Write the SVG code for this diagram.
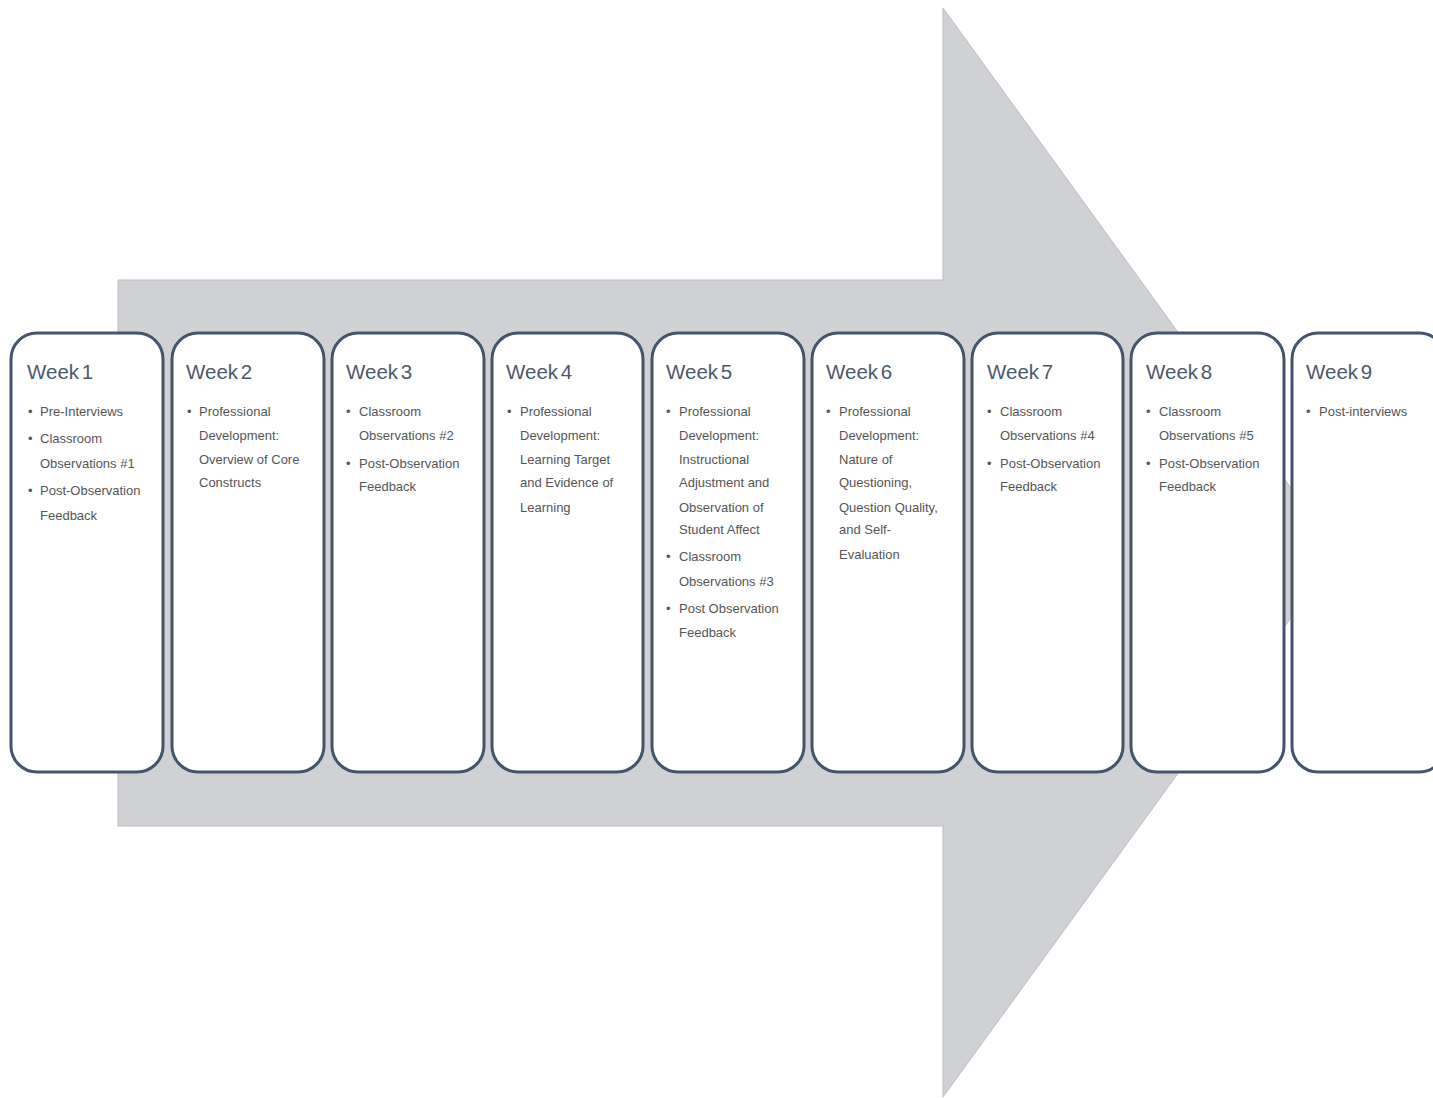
<svg xmlns="http://www.w3.org/2000/svg" width="1433" height="1098" viewBox="0 0 1433 1098">
<style>
.box{fill:#ffffff;stroke:#44546a;stroke-width:3}
.t{font-family:"Liberation Sans",Arial,sans-serif;font-size:20.5px;word-spacing:-3px;fill:#4b5a6e}
.b{font-family:"Liberation Sans",Arial,sans-serif;font-size:13px;fill:#555555}
</style>
<rect width="1433" height="1098" fill="#ffffff"/>
<g id="arrow">
<path d="M118 280 H943 V8 L1338 553 L943 1097 V826 H118 Z" fill="#d0d1d5" stroke="#bdbdbd" stroke-width="1"/>
</g>
<g id="connectors"></g>
<g id="week1" transform="translate(11,333)">
<rect class="box" x="0" y="0" width="152" height="439" rx="26"/>
<text class="t" x="16" y="46">Week 1</text>
<text class="b" x="17" y="83">•</text><text class="b" x="29" y="83">Pre-Interviews</text>
<text class="b" x="17" y="110">•</text><text class="b" x="29" y="110">Classroom</text>
<text class="b" x="29" y="135">Observations  #1</text>
<text class="b" x="17" y="162">•</text><text class="b" x="29" y="162">Post-Observation</text>
<text class="b" x="29" y="187">Feedback</text>
</g>
<g id="week2" transform="translate(172,333)">
<rect class="box" x="0" y="0" width="152" height="439" rx="26"/>
<text class="t" x="14" y="46">Week 2</text>
<text class="b" x="15" y="83">•</text><text class="b" x="27" y="83">Professional</text>
<text class="b" x="27" y="107">Development:</text>
<text class="b" x="27" y="131">Overview of Core</text>
<text class="b" x="27" y="154">Constructs</text>
</g>
<g id="week3" transform="translate(332,333)">
<rect class="box" x="0" y="0" width="152" height="439" rx="26"/>
<text class="t" x="14" y="46">Week 3</text>
<text class="b" x="14" y="83">•</text><text class="b" x="27" y="83">Classroom</text>
<text class="b" x="27" y="107">Observations  #2</text>
<text class="b" x="14" y="135">•</text><text class="b" x="27" y="135">Post-Observation</text>
<text class="b" x="27" y="158">Feedback</text>
</g>
<g id="week4" transform="translate(492,333)">
<rect class="box" x="0" y="0" width="151" height="439" rx="26"/>
<text class="t" x="14" y="46">Week 4</text>
<text class="b" x="15" y="83">•</text><text class="b" x="28" y="83">Professional</text>
<text class="b" x="28" y="107">Development:</text>
<text class="b" x="28" y="131">Learning  Target</text>
<text class="b" x="28" y="154">and Evidence  of</text>
<text class="b" x="28" y="179">Learning</text>
</g>
<g id="week5" transform="translate(652,333)">
<rect class="box" x="0" y="0" width="152" height="439" rx="26"/>
<text class="t" x="14" y="46">Week 5</text>
<text class="b" x="14" y="83">•</text><text class="b" x="27" y="83">Professional</text>
<text class="b" x="27" y="107">Development:</text>
<text class="b" x="27" y="131">Instructional</text>
<text class="b" x="27" y="154">Adjustment  and</text>
<text class="b" x="27" y="179">Observation  of</text>
<text class="b" x="27" y="201">Student  Affect</text>
<text class="b" x="14" y="228">•</text><text class="b" x="27" y="228">Classroom</text>
<text class="b" x="27" y="253">Observations  #3</text>
<text class="b" x="14" y="280">•</text><text class="b" x="27" y="280">Post Observation</text>
<text class="b" x="27" y="304">Feedback</text>
</g>
<g id="week6" transform="translate(812,333)">
<rect class="box" x="0" y="0" width="152" height="439" rx="26"/>
<text class="t" x="14" y="46">Week 6</text>
<text class="b" x="14" y="83">•</text><text class="b" x="27" y="83">Professional</text>
<text class="b" x="27" y="107">Development:</text>
<text class="b" x="27" y="131">Nature  of</text>
<text class="b" x="27" y="154">Questioning,</text>
<text class="b" x="27" y="179">Question  Quality,</text>
<text class="b" x="27" y="201">and Self-</text>
<text class="b" x="27" y="226">Evaluation</text>
</g>
<g id="week7" transform="translate(972,333)">
<rect class="box" x="0" y="0" width="151" height="439" rx="26"/>
<text class="t" x="15" y="46">Week 7</text>
<text class="b" x="15" y="83">•</text><text class="b" x="28" y="83">Classroom</text>
<text class="b" x="28" y="107">Observations  #4</text>
<text class="b" x="15" y="135">•</text><text class="b" x="28" y="135">Post-Observation</text>
<text class="b" x="28" y="158">Feedback</text>
</g>
<g id="week8" transform="translate(1131,333)">
<rect class="box" x="0" y="0" width="153" height="439" rx="26"/>
<text class="t" x="15" y="46">Week 8</text>
<text class="b" x="15" y="83">•</text><text class="b" x="28" y="83">Classroom</text>
<text class="b" x="28" y="107">Observations  #5</text>
<text class="b" x="15" y="135">•</text><text class="b" x="28" y="135">Post-Observation</text>
<text class="b" x="28" y="158">Feedback</text>
</g>
<g id="week9" transform="translate(1292,333)">
<rect class="box" x="0" y="0" width="153" height="439" rx="26"/>
<text class="t" x="14" y="46">Week 9</text>
<text class="b" x="14" y="83">•</text><text class="b" x="27" y="83">Post-interviews</text>
</g>
</svg>
